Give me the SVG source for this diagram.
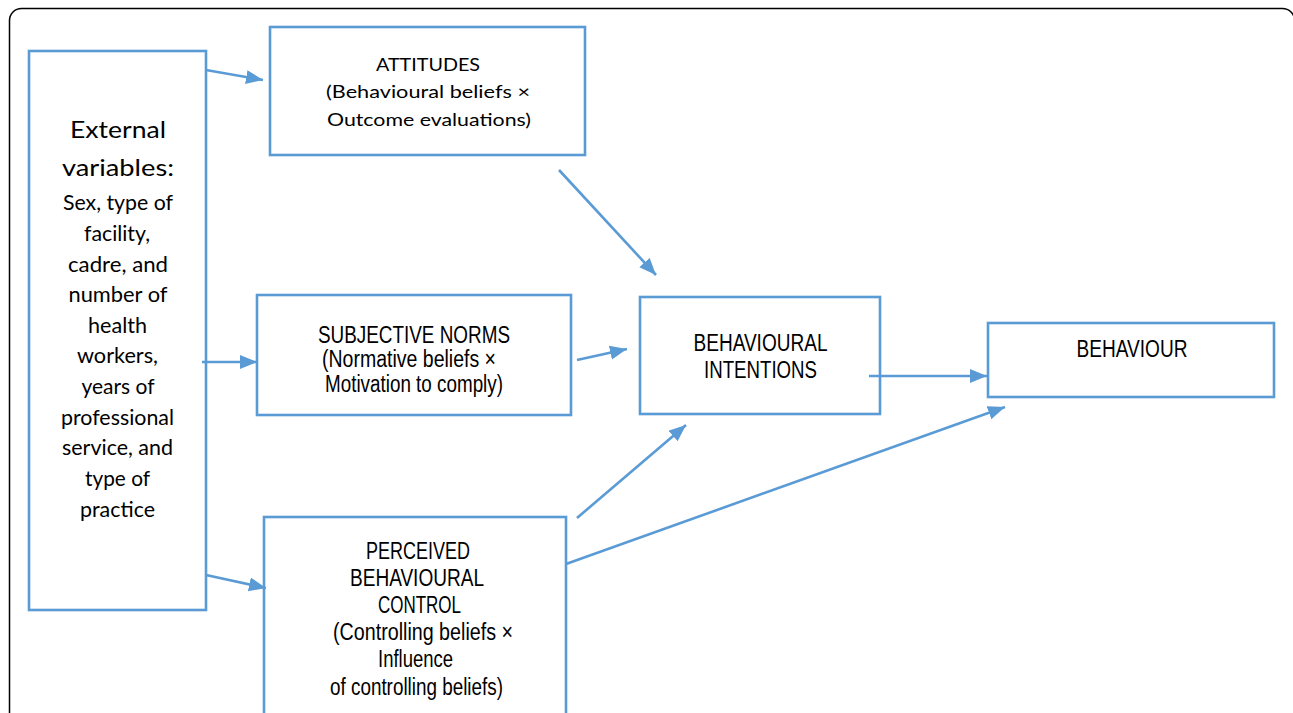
<svg xmlns="http://www.w3.org/2000/svg" width="1293" height="713" viewBox="0 0 1293 713">
<style>
.box{fill:#fff;stroke:#5B9BD5;stroke-width:2.6}
.con{fill:none;stroke:#5B9BD5;stroke-width:2.6}
.c{font-family:Lato,'Open Sans','Liberation Sans',sans-serif;fill:#000}
.n{font-family:'Liberation Sans Narrow','Liberation Sans',Arial,sans-serif;fill:#000;font-size:23px}
.ext{text-anchor:middle}
</style>
<defs>
<marker id="ah" markerUnits="userSpaceOnUse" markerWidth="18" markerHeight="15" refX="17" refY="7" orient="auto">
<path d="M0,0 L17,7 L0,14 z" fill="#5B9BD5"/>
</marker>
</defs>
<rect x="9.5" y="8.5" width="1285" height="730" rx="12" fill="#fff" stroke="#000" stroke-width="1.5"/>

<g id="external">
<rect class="box" x="29" y="51" width="177" height="559"/>
<g class="c ext" font-size="23">
<text x="118" y="138" textLength="96" lengthAdjust="spacingAndGlyphs">External</text>
<text x="118" y="176" textLength="112" lengthAdjust="spacingAndGlyphs">variables:</text>
</g>
<g class="c ext" font-size="21">
<text x="118" y="210" textLength="110" lengthAdjust="spacingAndGlyphs">Sex, type of</text>
<text x="117" y="241" textLength="66" lengthAdjust="spacingAndGlyphs">facility,</text>
<text x="118" y="272" textLength="100" lengthAdjust="spacingAndGlyphs">cadre, and</text>
<text x="118" y="302" textLength="99" lengthAdjust="spacingAndGlyphs">number of</text>
<text x="117.5" y="333" textLength="59" lengthAdjust="spacingAndGlyphs">health</text>
<text x="117.5" y="363" textLength="81" lengthAdjust="spacingAndGlyphs">workers,</text>
<text x="118" y="394" textLength="73" lengthAdjust="spacingAndGlyphs">years of</text>
<text x="117.5" y="425" textLength="113" lengthAdjust="spacingAndGlyphs">professional</text>
<text x="117.5" y="455" textLength="111" lengthAdjust="spacingAndGlyphs">service, and</text>
<text x="117.5" y="486" textLength="65" lengthAdjust="spacingAndGlyphs">type of</text>
<text x="117.5" y="517" textLength="75" lengthAdjust="spacingAndGlyphs">practice</text>
</g>
</g>

<g id="attitudes">
<rect class="box" x="270" y="27" width="315" height="128"/>
<g class="c" font-size="18">
<text x="376" y="71" textLength="104" lengthAdjust="spacingAndGlyphs">ATTITUDES</text>
<text x="326" y="98" textLength="204" lengthAdjust="spacingAndGlyphs">(Behavioural beliefs ×</text>
<text x="327" y="126" textLength="204" lengthAdjust="spacingAndGlyphs">Outcome evaluations)</text>
</g>
</g>

<g id="subjective-norms">
<rect class="box" x="257" y="295" width="314" height="120"/>
<text class="n" x="318" y="343" textLength="192" lengthAdjust="spacingAndGlyphs">SUBJECTIVE NORMS</text>
<text class="n" x="322" y="367" textLength="174" lengthAdjust="spacingAndGlyphs">(Normative beliefs ×</text>
<text class="n" x="325" y="392" textLength="178" lengthAdjust="spacingAndGlyphs">Motivation to comply)</text>
</g>

<g id="perceived-behavioural-control">
<rect class="box" x="264" y="517" width="302" height="230"/>
<text class="n" x="366" y="559" textLength="104" lengthAdjust="spacingAndGlyphs">PERCEIVED</text>
<text class="n" x="350" y="586" textLength="134" lengthAdjust="spacingAndGlyphs">BEHAVIOURAL</text>
<text class="n" x="378" y="613" textLength="83" lengthAdjust="spacingAndGlyphs">CONTROL</text>
<text class="n" x="333" y="640" textLength="180" lengthAdjust="spacingAndGlyphs">(Controlling beliefs ×</text>
<text class="n" x="378" y="667" textLength="75" lengthAdjust="spacingAndGlyphs">Influence</text>
<text class="n" x="330" y="695" textLength="173" lengthAdjust="spacingAndGlyphs">of controlling beliefs)</text>
</g>

<g id="behavioural-intentions">
<rect class="box" x="640" y="297" width="240" height="117"/>
<text class="n" x="693.5" y="351" textLength="134" lengthAdjust="spacingAndGlyphs">BEHAVIOURAL</text>
<text class="n" x="704" y="378" textLength="113" lengthAdjust="spacingAndGlyphs">INTENTIONS</text>
</g>

<g id="behaviour">
<rect class="box" x="988" y="323" width="286" height="74"/>
<text class="n" x="1076.5" y="357" textLength="111" lengthAdjust="spacingAndGlyphs">BEHAVIOUR</text>
</g>

<g id="connectors">
<line class="con" x1="206" y1="70" x2="263" y2="80" marker-end="url(#ah)"/>
<line class="con" x1="559" y1="170" x2="656" y2="275" marker-end="url(#ah)"/>
<line class="con" x1="202" y1="362" x2="257" y2="362" marker-end="url(#ah)"/>
<line class="con" x1="577" y1="360" x2="627" y2="349" marker-end="url(#ah)"/>
<line class="con" x1="206" y1="575" x2="266" y2="588" marker-end="url(#ah)"/>
<line class="con" x1="577" y1="518" x2="686" y2="425" marker-end="url(#ah)"/>
<line class="con" x1="566" y1="564" x2="1005" y2="407" marker-end="url(#ah)"/>
<line class="con" x1="869" y1="376" x2="987" y2="376" marker-end="url(#ah)"/>
</g>
</svg>
